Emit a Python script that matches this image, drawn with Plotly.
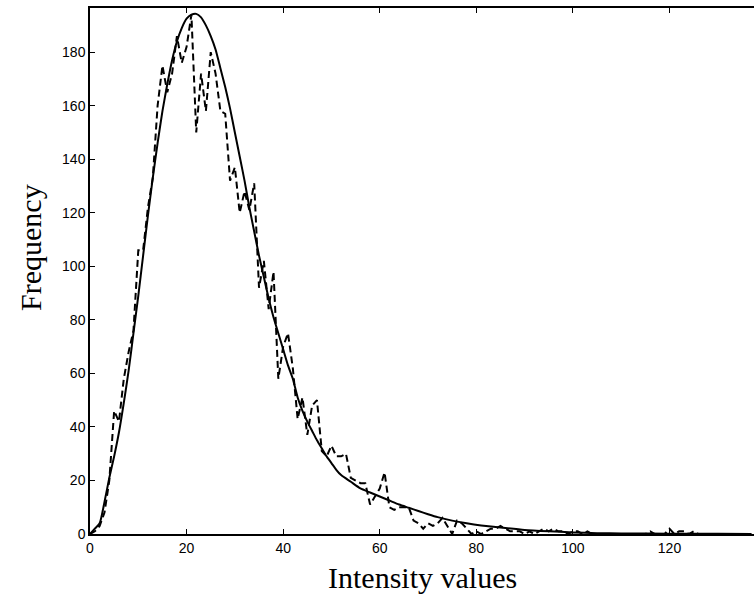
import plotly.graph_objects as go

# Histogram (dashed) : intensity value -> frequency
hist_x = list(range(0, 138))
hist_y = [0, 1, 3, 8, 20, 46, 42, 58, 68, 76,
          106, 106, 122, 133, 160, 175, 165, 172, 186, 176,
          182, 194, 150, 172, 158, 180, 172, 158, 157, 132,
          137, 120, 128, 121, 131, 92, 102, 84, 98, 58,
          70, 75, 62, 43, 51, 37, 48, 50, 31, 29,
          33, 29, 29, 30, 21, 20, 19, 19, 11, 14,
          17, 23, 10, 9, 10, 10, 10, 5, 4, 2,
          4, 3, 4, 6, 3, 0, 5, 4, 2, 0,
          1, 0, 1, 2, 2, 3, 2, 1, 1, 1,
          0, 1, 0, 1, 2, 1, 2, 1, 1, 0,
          1, 1, 0, 1, 0, 0, 0, 0, 0, 0,
          0, 0, 0, 0, 0, 0, 1, 0, 0, 0,
          2, 0, 1, 1, 0, 1, 0, 0, 0, 0,
          0, 0, 0, 0, 0, 0, 0, 0]

# Fitted curve (solid)
fit_x = [0, 1, 2, 3, 4, 5, 6, 7, 8, 9, 10, 11, 12, 13, 14, 15, 16, 17, 18, 19,
         20, 21, 22, 23, 24, 25, 26, 27, 28, 29, 30, 31, 32, 33, 34, 35, 36, 37, 38, 39,
         40, 41, 42, 43, 44, 45, 46, 47, 48, 49, 50, 51, 52, 54, 56, 58, 60, 62, 64, 66,
         68, 70, 72, 75, 78, 81, 85, 90, 95, 100, 105, 110, 120, 130, 137]
fit_y = [0, 2, 4, 12, 21, 29, 38, 49, 61, 75, 89, 104, 119, 133, 146, 158, 168, 177, 184, 189,
         192.5, 194, 194.3, 193, 190, 186, 181, 174, 167, 159, 150, 141, 132, 122, 113, 104, 96, 88, 81, 75,
         69, 63, 58, 51, 46, 42, 38.5, 35, 32, 29, 26.5, 24, 22, 19.5, 17, 15.5, 14, 12.5, 11, 9.8,
         8.6, 7.4, 6.3, 5, 4, 3.2, 2.4, 1.5, 1, 0.6, 0.3, 0.2, 0.1, 0.05, 0]

x_ticks = [0, 20, 40, 60, 80, 100, 120]
y_ticks = [0, 20, 40, 60, 80, 100, 120, 140, 160, 180]

fig = go.Figure()
fig.add_trace(go.Scatter(x=hist_x, y=hist_y, mode="lines",
                         line=dict(color="black", width=2, dash="7px,4px"),
                         showlegend=False))
fig.add_trace(go.Scatter(x=fit_x, y=fit_y, mode="lines",
                         line=dict(color="black", width=2, shape="spline", smoothing=0.6),
                         showlegend=False))

tickfont = dict(family="Liberation Sans, Arial, sans-serif", size=14, color="black")
fig.update_layout(
    width=754, height=604,
    margin=dict(l=90, r=0, t=8, b=70),
    paper_bgcolor="white", plot_bgcolor="white",
    xaxis=dict(range=[0, 137.5], tickvals=x_ticks, ticks="inside", ticklen=5,
               tickcolor="black", showline=True, linecolor="black", linewidth=1.5,
               mirror="ticks", showgrid=False, zeroline=False, tickfont=tickfont),
    yaxis=dict(range=[0, 196.5], tickvals=y_ticks, ticks="inside", ticklen=5,
               tickcolor="black", showline=True, linecolor="black", linewidth=1.5,
               showgrid=False, zeroline=False, tickfont=tickfont),
    annotations=[
        dict(text="Intensity values", xref="paper", yref="paper", x=0.5, y=-0.082,
             xanchor="center", yanchor="middle", showarrow=False,
             font=dict(family="Liberation Serif, Times New Roman, serif", size=30, color="black")),
        dict(text="Frequency", xref="paper", yref="paper", x=-0.0904, y=0.5456,
             xanchor="center", yanchor="middle", showarrow=False, textangle=-90,
             font=dict(family="Liberation Serif, Times New Roman, serif", size=30, color="black")),
    ],
)
fig.write_html("out.html", config={"displayModeBar": False},
               post_script="document.body.style.margin='0';document.body.style.overflow='hidden';")
